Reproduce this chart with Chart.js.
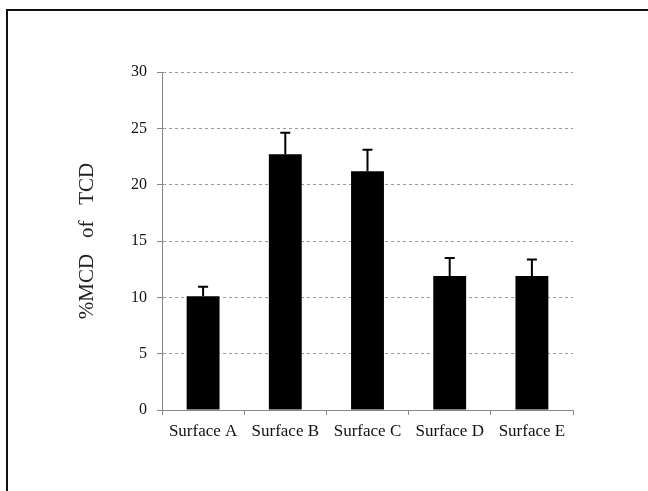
<!DOCTYPE html>
<html>
<head>
<meta charset="utf-8">
<script src="https://cdn.jsdelivr.net/npm/chart.js@4"></script>
<style>
html,body{margin:0;padding:0;background:#fff;}
#wrap{width:648px;height:491px;position:relative;}
</style>
</head>
<body>
<div id="wrap"><canvas id="c" width="648" height="491"></canvas></div>
<script>
const categories = ["Surface A", "Surface B", "Surface C", "Surface D", "Surface E"];
const values = [10.1, 22.7, 21.2, 11.9, 11.9];
const errors = [0.85, 1.9, 1.9, 1.6, 1.45];
const yTicks = [0, 5, 10, 15, 20, 25, 30];
const yTitle = "%MCD   of   TCD";

const errorBars = {
  id: 'errorBars',
  afterDatasetsDraw(chart) {
    const ctx = chart.ctx;
    const meta = chart.getDatasetMeta(0);
    const ys = chart.scales.y;
    ctx.save();
    ctx.strokeStyle = '#000';
    ctx.lineWidth = 2;
    meta.data.forEach((bar, i) => {
      const y0 = ys.getPixelForValue(values[i]);
      const y1 = ys.getPixelForValue(values[i] + errors[i]);
      ctx.beginPath();
      ctx.moveTo(bar.x, y0);
      ctx.lineTo(bar.x, y1);
      ctx.moveTo(bar.x - 5, y1);
      ctx.lineTo(bar.x + 5, y1);
      ctx.stroke();
    });
    ctx.restore();
  }
};

const frame = {
  id: 'frame',
  beforeDraw(chart) {
    const ctx = chart.ctx;
    ctx.save();
    ctx.fillStyle = '#fff';
    ctx.fillRect(0, 0, chart.width, chart.height);
    ctx.strokeStyle = '#111';
    ctx.lineWidth = 2;
    ctx.beginPath();
    ctx.moveTo(7, 491);
    ctx.lineTo(7, 10);
    ctx.lineTo(648, 10);
    ctx.stroke();
    ctx.restore();
  }
};

new Chart(document.getElementById('c'), {
  type: 'bar',
  data: {
    labels: categories,
    datasets: [{
      data: values,
      backgroundColor: '#000',
      borderWidth: 0,
      categoryPercentage: 1.0,
      barPercentage: 0.4
    }]
  },
  options: {
    responsive: false,
    animation: false,
    layout: { padding: { left: 0, top: 72, right: 75, bottom: 0 } },
    plugins: { legend: { display: false }, tooltip: { enabled: false } },
    scales: {
      x: {
        offset: true,
        grid: { offset: true, drawOnChartArea: false, drawTicks: true, tickLength: 5, tickColor: '#888', tickWidth: 1 },
        border: { display: true, color: '#888', width: 1 },
        ticks: { color: '#111', padding: 6, maxRotation: 0, autoSkip: false, font: { family: 'Liberation Serif', size: 17 } },
        afterFit(s) { s.height = 81; }
      },
      y: {
        min: 0, max: 30,
        afterBuildTicks(s) { s.ticks = yTicks.map(v => ({ value: v })); },
        grid: { color: '#999', lineWidth: 1, drawTicks: true, tickLength: 5, tickColor: '#888', tickBorderDash: [] },
        border: { display: true, color: '#888', width: 1, dash: [3, 3] },
        ticks: { color: '#111', padding: 10, font: { family: 'Liberation Serif', size: 16 } },
        title: { display: true, text: yTitle, color: '#222', font: { family: 'Liberation Serif', size: 21 }, padding: { top: 75, bottom: 0 } },
        afterFit(s) { s.width = 162; }
      }
    }
  },
  plugins: [frame, errorBars]
});
</script>
</body>
</html>
